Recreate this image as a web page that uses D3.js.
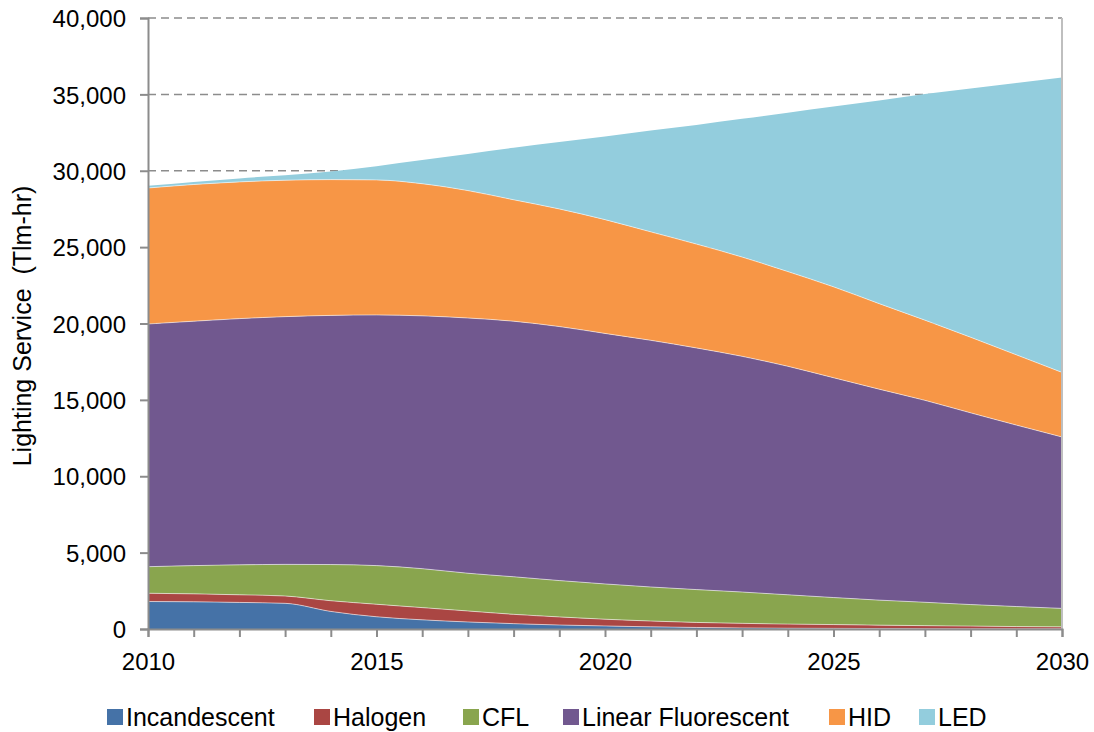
<!DOCTYPE html>
<html>
<head>
<meta charset="utf-8">
<script src="https://cdn.jsdelivr.net/npm/d3@7"></script>
<style>
  body { margin: 0; background: #fff; }
  svg { font-family: Arial, "Liberation Sans", sans-serif; }
</style>
</head>
<body>
<div id="chart"></div>
<script>
// years on the x axis
var years = d3.range(2010, 2031)

// lighting service by technology, Tlm-hr
var incandescent = [1800, 1780, 1740, 1680, 1150, 800, 600, 460, 350, 260, 200, 140, 100, 70, 50, 40, 30, 20, 15, 10, 10]
var halogen = [540, 520, 500, 480, 700, 820, 800, 720, 610, 530, 440, 380, 330, 300, 270, 250, 220, 200, 175, 150, 130]
var cfl = [1740, 1850, 1960, 2070, 2370, 2530, 2550, 2470, 2460, 2380, 2310, 2230, 2150, 2050, 1920, 1770, 1640, 1530, 1410, 1310, 1210]
var linearFluorescent = [15890, 16000, 16120, 16220, 16310, 16410, 16550, 16710, 16730, 16630, 16400, 16150, 15820, 15430, 14960, 14390, 13810, 13220, 12550, 11880, 11220]
var hid = [8900, 8950, 8950, 8930, 8890, 8840, 8650, 8340, 7950, 7700, 7450, 7100, 6800, 6500, 6200, 5950, 5600, 5250, 4950, 4600, 4230]
var led = [150, 170, 230, 330, 530, 900, 1550, 2400, 3400, 4380, 5450, 6630, 7800, 9050, 10400, 11800, 13300, 14800, 16280, 17800, 19300]

var seriesNames = ['Incandescent', 'Halogen', 'CFL', 'Linear Fluorescent', 'HID', 'LED']
var seriesValues = [incandescent, halogen, cfl, linearFluorescent, hid, led]
var seriesColors = ['#4572A7', '#AA4643', '#89A54E', '#71588F', '#F79646', '#93CDDD']

var yTicks = [0, 5000, 10000, 15000, 20000, 25000, 30000, 35000, 40000]
var xLabels = [2010, 2015, 2020, 2025, 2030]

var width = 1094
var height = 732
var plotLeft = 148, plotRight = 1062, plotTop = 18, plotBottom = 629

// build rows for d3.stack
var rows = years.map(function (yr, i) {
    var row = { year: yr }
    seriesNames.forEach(function (name, k) { row[name] = seriesValues[k][i] })
    return row
})

var stacked = d3.stack().keys(seriesNames)(rows)

var x = d3.scaleLinear().domain([2010, 2030]).range([plotLeft, plotRight])
var y = d3.scaleLinear().domain([0, 40000]).range([plotBottom, plotTop])

var svg = d3.select('#chart').append('svg')
    .attr('width', width)
    .attr('height', height)

// gridlines, hidden by the areas
svg.append('g').selectAll('line')
    .data(yTicks.slice(1))
    .enter().append('line')
    .attr('x1', plotLeft).attr('x2', plotRight)
    .attr('y1', function (d) { return y(d) }).attr('y2', function (d) { return y(d) })
    .attr('stroke', '#8c8c8c')
    .attr('stroke-width', 1.5)
    .attr('stroke-dasharray', '8,5')

var area = d3.area()
    .x(function (d) { return x(d.data.year) })
    .y0(function (d) { return y(d[0]) })
    .y1(function (d) { return y(d[1]) })
    .curve(d3.curveMonotoneX)

var topLine = d3.line()
    .x(function (d) { return x(d.data.year) })
    .y(function (d) { return y(d[1]) })
    .curve(d3.curveMonotoneX)

svg.append('g').selectAll('path')
    .data(stacked)
    .enter().append('path')
    .attr('d', area)
    .attr('fill', function (d, i) { return seriesColors[i] })

// thin light edge between layers
svg.append('g').selectAll('path')
    .data(stacked.slice(0, 5))
    .enter().append('path')
    .attr('d', topLine)
    .attr('fill', 'none')
    .attr('stroke', '#fff')
    .attr('stroke-opacity', 0.55)
    .attr('stroke-width', 1)

// plot border on the right
svg.append('line')
    .attr('x1', plotRight).attr('x2', plotRight)
    .attr('y1', plotTop).attr('y2', plotBottom)
    .attr('stroke', '#bfbfbf')
    .attr('stroke-width', 2)

// y axis
var yAxis = d3.axisLeft(y)
    .tickValues(yTicks)
    .tickSize(8)
    .tickPadding(14)
    .tickFormat(d3.format(','))

var yG = svg.append('g')
    .attr('transform', 'translate(' + plotLeft + ',0)')
    .call(yAxis)

// x axis, a tick every year
var xAxis = d3.axisBottom(x)
    .tickValues(years)
    .tickSize(8)
    .tickPadding(16)
    .tickFormat(function (d) { return xLabels.indexOf(d) > -1 ? d : '' })

var xG = svg.append('g')
    .attr('transform', 'translate(0,' + plotBottom + ')')
    .call(xAxis)

;[yG, xG].forEach(function (g) {
    g.select('.domain').attr('stroke', '#8c8c8c').attr('stroke-width', 2)
    g.selectAll('.tick line').attr('stroke', '#8c8c8c').attr('stroke-width', 2)
    g.selectAll('.tick text')
        .attr('fill', '#000')
        .attr('font-size', 24)
        .attr('font-family', 'Arial, "Liberation Sans", sans-serif')
})
yG.selectAll('.tick text').attr('dy', '0.36em')

svg.append('text')
    .attr('transform', 'translate(31,326) rotate(-90)')
    .attr('text-anchor', 'middle')
    .attr('font-size', 25)
    .attr('fill', '#000')
    .style('white-space', 'pre')
    .text('Lighting Service  (Tlm-hr)')

// legend
var legendX = [107, 314, 463, 563, 829, 919]
var legend = svg.append('g').selectAll('g')
    .data(seriesNames)
    .enter().append('g')
    .attr('transform', function (d, i) { return 'translate(' + legendX[i] + ',709)' })

legend.append('rect')
    .attr('width', 16).attr('height', 16)
    .attr('fill', function (d, i) { return seriesColors[i] })

legend.append('text')
    .attr('x', 19)
    .attr('y', 17)
    .attr('font-size', 25)
    .attr('fill', '#000')
    .text(function (d) { return d })
</script>
</body>
</html>
